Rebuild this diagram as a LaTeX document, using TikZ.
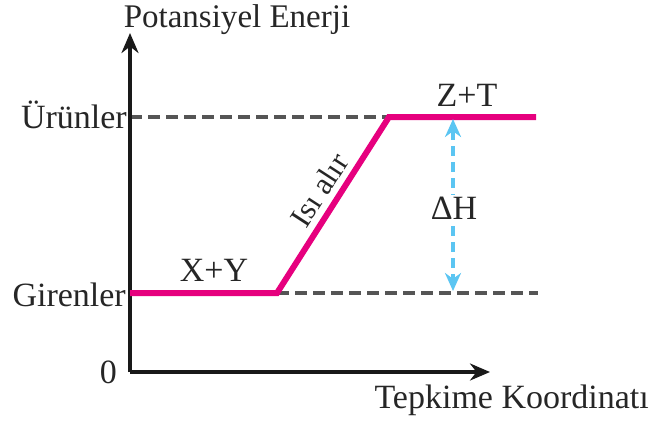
\documentclass[tikz,border=0pt]{standalone}
\usepackage{fontspec}
\setmainfont{Liberation Serif}
\usetikzlibrary{arrows.meta}
\definecolor{pinkc}{HTML}{E6007E}
\definecolor{grayc}{HTML}{555555}
\definecolor{bluec}{HTML}{5BC5F2}
\begin{document}
\begin{tikzpicture}[x=1pt,y=-1pt,
  lbl/.style={font=\fontsize{34}{38}\selectfont, inner sep=0pt, text=black!85},
  axis/.style={line width=4pt, draw=black!90, -{Stealth[length=20pt,width=17pt]}},
  dsh/.style={line width=4pt, draw=grayc, dash pattern=on 12pt off 6pt},
  curve/.style={line width=6pt, draw=pinkc, line join=miter},
  dh/.style={line width=4pt, draw=bluec, dash pattern=on 10pt off 6pt, {Stealth[length=18pt,width=16pt]}-{Stealth[length=18pt,width=16pt]}}]
\useasboundingbox (0,0) rectangle (652,421);
\coordinate (O) at (130,372);
\coordinate (ytop) at (130,33);
\coordinate (xend) at (490,372);
\coordinate (a) at (130,293);
\coordinate (b) at (277,293);
\coordinate (c) at (389,117);
\coordinate (d) at (536,117);
\coordinate (uL) at (130,117);
\coordinate (gR) at (538,293);
\coordinate (dhT) at (453,119);
\coordinate (dhB) at (453,291);
\draw[dsh] (uL) -- (c);
\draw[dsh] (b) -- (gR);
\draw[axis] (O) -- (ytop);
\draw[axis] (O) -- (xend);
\draw[curve] (a) -- (b) -- (c) -- (d);
\draw[dh] (dhT) -- (dhB);
\node[lbl, fill=white, inner sep=2pt] (dH) at (454,208) {ΔH};
\node[lbl, font=\fontsize{33}{36}\selectfont, anchor=base] (pe) at (237,27) {Potansiyel Enerji};
\node[lbl, anchor=base east] (ur) at (127,128) {Ürünler};
\node[lbl, anchor=base east] (gir) at (126,306) {Girenler};
\node[lbl, anchor=east] (zero) at (117,372) {0};
\node[lbl, font=\fontsize{34}{37}\selectfont, anchor=base east] (tk) at (649,408) {Tepkime Koordinatı};
\node[lbl] (zt) at (467,95) {Z+T};
\node[lbl] (xy) at (214,270) {X+Y};
\node[lbl, font=\fontsize{31}{34}\selectfont, rotate=57] (isi) at (319,190) {Isı alır};
\end{tikzpicture}
\end{document}
